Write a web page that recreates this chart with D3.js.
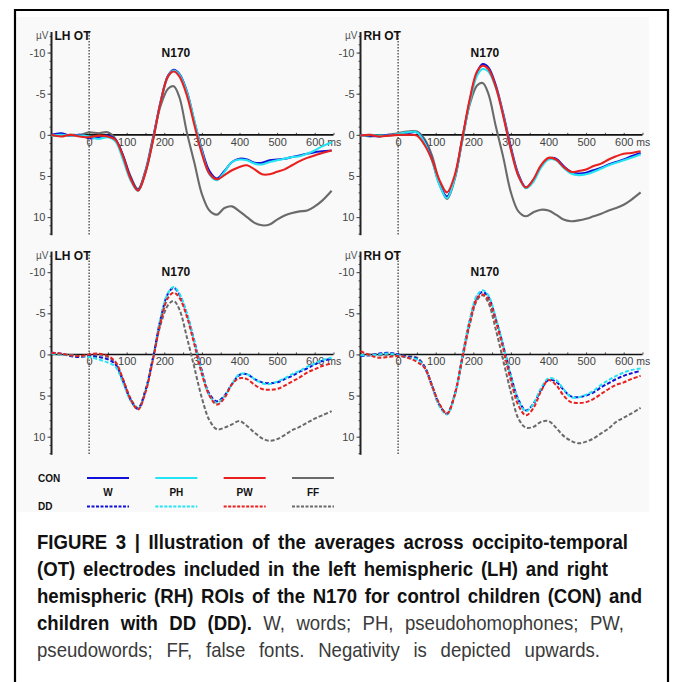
<!DOCTYPE html>
<html>
<head>
<meta charset="utf-8">
<script src="https://cdn.jsdelivr.net/npm/d3@7"></script>
<style>
  html, body { margin: 0; padding: 0; background: #fff; }
  svg { display: block; }
</style>
</head>
<body>
<div id="chart"></div>
<script>
const width = 675;
const height = 682;

// sample times (ms) shared by all waveforms
const times = [-100, -75, -50, -25, 0, 25, 50, 70, 90, 110, 130, 150, 170, 190, 210, 225, 240, 260, 280,
  300, 320, 340, 360, 380, 400, 420, 440, 460, 480, 500, 520, 540, 560, 580, 600, 620, 645];

const conditions = ["W", "PH", "PW", "FF"];
const groups = ["CON", "DD"];
const regions = ["LH OT", "RH OT"];

// µV values (positive = drawn downwards)
const conLH_W  = [0.0, -0.2, 0.1, 0.0, 0.4, 0.3, 0.1, 0.6, 2.5, 5.2, 6.7, 4.5, 0.5, -4.0, -7.2, -7.9, -7.4, -5.3, -1.6,
  1.8, 4.4, 5.3, 4.4, 3.3, 2.9, 3.0, 3.4, 3.4, 3.1, 3.0, 2.9, 2.7, 2.5, 2.3, 2.1, 2.0, 1.9];
const conLH_PH = [0.1, 0.0, 0.1, 0.1, 0.2, 0.5, 0.3, 0.8, 3.0, 5.5, 6.8, 4.5, 0.6, -3.9, -7.1, -7.8, -7.3, -5.2, -1.7,
  2.0, 4.8, 5.5, 4.5, 3.3, 3.0, 3.1, 3.5, 3.6, 3.3, 3.1, 2.9, 2.7, 2.6, 2.3, 1.9, 1.4, 0.9];
const conLH_PW = [0.0, 0.2, 0.0, 0.2, 0.3, 0.1, 0.2, 0.6, 2.6, 5.3, 6.8, 4.6, 0.7, -3.9, -7.1, -7.7, -7.1, -4.8, -1.2,
  2.3, 4.7, 5.4, 4.9, 4.3, 3.9, 3.7, 4.2, 4.8, 4.8, 4.5, 4.2, 3.7, 3.2, 2.8, 2.5, 2.2, 1.9];
const conLH_FF = [0.1, 0.1, 0.0, 0.0, -0.3, -0.2, -0.3, 0.5, 2.5, 5.0, 6.6, 4.3, 0.3, -3.5, -5.6, -5.9, -4.6, -0.3, 3.4,
  7.2, 9.2, 9.7, 8.9, 8.7, 9.3, 10.0, 10.7, 11.0, 10.9, 10.3, 9.8, 9.5, 9.3, 9.2, 8.7, 8.0, 6.8];

const conRH_W  = [0.0, 0.1, 0.2, 0.0, 0.0, -0.2, -0.3, 0.8, 3.0, 6.0, 7.5, 5.3, 0.8, -4.0, -7.6, -8.6, -8.2, -6.0, -2.5,
  1.5, 4.8, 6.4, 5.5, 3.8, 2.9, 2.9, 3.8, 4.5, 4.7, 4.6, 4.3, 4.0, 3.6, 3.3, 3.0, 2.6, 2.2];
const conRH_PH = [0.1, 0.0, 0.1, 0.1, -0.1, -0.3, -0.3, 0.9, 3.1, 6.1, 7.7, 5.4, 0.9, -3.8, -7.2, -8.0, -7.7, -5.7, -2.3,
  1.8, 5.0, 6.5, 5.7, 4.0, 3.0, 3.1, 4.0, 4.7, 4.9, 4.8, 4.5, 4.1, 3.7, 3.4, 3.1, 2.8, 2.4];
const conRH_PW = [0.1, 0.0, 0.2, 0.1, 0.0, 0.0, 0.1, 1.2, 3.0, 5.5, 7.0, 5.0, 0.6, -4.2, -7.7, -8.4, -8.0, -5.8, -2.2,
  1.8, 5.0, 6.4, 5.4, 3.7, 2.8, 3.0, 3.9, 4.5, 4.4, 4.2, 3.8, 3.5, 3.0, 2.6, 2.3, 2.2, 2.0];
const conRH_FF = [0.0, 0.2, 0.1, 0.0, -0.2, -0.4, -0.4, 0.5, 2.5, 5.8, 7.8, 5.5, 0.6, -3.6, -6.0, -6.3, -5.0, -1.0, 2.8,
  7.0, 9.3, 9.9, 9.4, 9.1, 9.2, 9.7, 10.3, 10.5, 10.4, 10.2, 9.9, 9.6, 9.2, 8.9, 8.5, 7.9, 7.0];

const ddLH_W  = [-0.2, -0.1, 0.2, 0.3, 0.2, 0.3, 0.6, 1.2, 3.2, 5.5, 6.6, 4.4, 0.4, -4.3, -7.4, -8.1, -7.3, -4.9, -1.6,
  2.0, 4.8, 5.7, 5.0, 3.6, 2.5, 2.4, 3.0, 3.4, 3.5, 3.4, 3.0, 2.6, 2.1, 1.7, 1.2, 0.8, 0.5];
const ddLH_PH = [-0.1, 0.0, 0.1, 0.2, 0.3, 0.6, 1.0, 1.5, 3.4, 5.6, 6.6, 4.4, 0.4, -4.4, -7.5, -8.2, -7.4, -5.0, -1.5,
  2.2, 5.0, 5.9, 5.1, 3.6, 2.4, 2.4, 3.0, 3.5, 3.6, 3.3, 2.9, 2.4, 2.0, 1.5, 1.1, 0.7, 0.4];
const ddLH_PW = [-0.2, -0.1, 0.1, 0.2, 0.0, -0.1, 0.2, 0.9, 3.0, 5.4, 6.7, 4.6, 0.6, -3.9, -6.9, -7.5, -6.9, -4.6, -1.2,
  2.4, 5.0, 6.1, 5.3, 3.6, 2.9, 3.0, 3.7, 4.2, 4.3, 4.2, 3.8, 3.3, 2.8, 2.2, 1.8, 1.4, 1.1];
const ddLH_FF = [-0.1, 0.0, 0.1, 0.2, 0.1, 0.0, 0.3, 1.0, 3.0, 5.3, 6.5, 4.3, 0.4, -3.6, -6.0, -6.5, -5.5, -2.1, 1.6,
  5.3, 8.0, 9.1, 8.9, 8.5, 8.1, 8.7, 9.5, 10.2, 10.5, 10.3, 9.8, 9.2, 8.8, 8.3, 7.8, 7.4, 6.9];

const ddRH_W  = [0.2, 0.1, -0.1, -0.2, 0.0, 0.3, 0.5, 1.5, 3.8, 6.2, 7.2, 5.0, 0.5, -4.0, -7.0, -7.6, -7.0, -4.3, -1.0,
  2.6, 5.5, 6.8, 6.0, 4.3, 3.1, 3.3, 4.3, 5.1, 5.2, 5.0, 4.6, 4.0, 3.5, 3.0, 2.6, 2.3, 2.0];
const ddRH_PH = [0.1, 0.1, 0.0, -0.1, 0.1, 0.4, 0.6, 1.6, 3.9, 6.3, 7.3, 5.1, 0.5, -4.1, -7.2, -7.8, -7.2, -4.4, -1.0,
  2.7, 5.6, 6.9, 6.0, 4.1, 2.9, 3.1, 4.2, 5.2, 5.2, 4.9, 4.4, 3.7, 3.1, 2.6, 2.2, 1.9, 1.7];
const ddRH_PW = [-0.4, 0.1, 0.4, 0.3, 0.2, 0.4, 0.9, 1.6, 3.8, 6.0, 7.2, 5.0, 0.6, -3.8, -6.8, -7.3, -6.7, -4.0, -0.6,
  3.2, 6.2, 7.4, 6.5, 4.5, 3.1, 3.7, 5.0, 5.8, 5.9, 5.8, 5.4, 4.8, 4.2, 3.7, 3.4, 3.0, 2.6];
const ddRH_FF = [0.1, 0.0, 0.1, 0.0, 0.1, 0.2, 0.4, 1.4, 3.7, 6.1, 7.2, 5.0, 0.8, -3.5, -6.6, -7.2, -6.3, -3.0, 0.8,
  4.6, 7.8, 8.9, 8.8, 8.2, 8.1, 8.9, 9.9, 10.5, 10.8, 10.6, 10.2, 9.6, 9.0, 8.2, 7.7, 7.2, 6.5];

const xTicks = [0, 100, 200, 300, 400, 500, 600];
const yTicks = [-10, -5, 0, 5, 10];

const captionLines = [
  [{ t: "FIGURE 3 | Illustration of the averages across occipito-temporal", b: true }],
  [{ t: "(OT) electrodes included in the left hemispheric (LH) and right", b: true }],
  [{ t: "hemispheric (RH) ROIs of the N170 for control children (CON) and", b: true }],
  [{ t: "children with DD (DD).", b: true }, { t: " W, words; PH, pseudohomophones; PW,", b: false }],
  [{ t: "pseudowords; FF, false fonts. Negativity is depicted upwards.", b: false }]
];

const color = d3.scaleOrdinal()
  .domain(conditions)
  .range(["#1010d8", "#22e4f2", "#e8201e", "#6a6a6a"]);

const panels = [
  { group: "CON", region: "LH OT", series: [conLH_W, conLH_PH, conLH_PW, conLH_FF], col: 0, row: 0 },
  { group: "CON", region: "RH OT", series: [conRH_W, conRH_PH, conRH_PW, conRH_FF], col: 1, row: 0 },
  { group: "DD",  region: "LH OT", series: [ddLH_W, ddLH_PH, ddLH_PW, ddLH_FF], col: 0, row: 1 },
  { group: "DD",  region: "RH OT", series: [ddRH_W, ddRH_PH, ddRH_PW, ddRH_FF], col: 1, row: 1 }
];

const colX = [[51.5, 333.5], [360.5, 642.5]];
const rowY = [[32, 235.2], [251.6, 454.8]];
const tickFont = "'Liberation Sans', Arial, sans-serif";

const svg = d3.select("#chart")
  .append("svg")
  .attr("width", width)
  .attr("height", height)
  .style("font-family", "'Liberation Sans', Arial, Helvetica, sans-serif");

// figure background + frame
svg.append("rect")
  .attr("x", 17).attr("y", 17)
  .attr("width", 632).attr("height", 495)
  .attr("fill", "#f9f9f9");

svg.append("path")
  .attr("d", "M15,690V10H668V690")
  .attr("fill", "none")
  .attr("stroke", "#000")
  .attr("stroke-width", 2.2);

panels.forEach(p => {
  const x = d3.scaleLinear().domain([-100, 650]).range(colX[p.col]);
  const y = d3.scaleLinear().domain([-12.5, 12.2]).range(rowY[p.row]);
  const g = svg.append("g");
  const dashed = p.group === "DD";

  // y axis: minor ticks, then major ticks with labels
  g.append("g")
    .attr("transform", `translate(${x(-100)},0)`)
    .call(d3.axisLeft(y).tickValues(d3.range(-12, 13, 1)).tickSize(2).tickFormat(""))
    .call(a => a.select(".domain").remove())
    .call(a => a.selectAll("line").attr("stroke", "#555"));

  g.append("g")
    .attr("transform", `translate(${x(-100)},0)`)
    .call(d3.axisLeft(y).tickValues(yTicks).tickSize(4).tickPadding(2).tickFormat(d => String(d)))
    .call(a => a.select(".domain").attr("d", `M0,${y.range()[0]}V${y.range()[1]}`)
      .attr("stroke", "#222").attr("stroke-width", 2))
    .call(a => a.selectAll("text").attr("fill", "#444").style("font-size", "11px")
      .style("font-family", tickFont))
    .call(a => a.selectAll("line").attr("stroke", "#444"));

  // x axis at 0 µV
  g.append("g")
    .attr("transform", `translate(0,${y(0)})`)
    .call(d3.axisTop(x).tickValues(d3.range(0, 651, 50)).tickSize(2).tickFormat(""))
    .call(a => a.select(".domain").remove())
    .call(a => a.selectAll("line").attr("stroke", "#444"));

  g.append("g")
    .attr("transform", `translate(0,${y(0)})`)
    .call(d3.axisBottom(x).tickValues(xTicks).tickSize(0).tickPadding(3).tickFormat(d => String(d)))
    .call(a => a.select(".domain").attr("d", `M${x(-100)},0H${x(650)}`)
      .attr("stroke", "#111").attr("stroke-width", 1.6))
    .call(a => a.selectAll("text").attr("fill", "#444").style("font-size", "11px")
      .style("font-family", tickFont))
    // unit sits right after the last tick label, as one label "600 ms"
    .call(a => a.selectAll(".tick").filter(d => d === 600).select("text")
      .attr("text-anchor", "start").attr("x", -9.2)
      .append("tspan").style("font-size", "10.5px").text(" ms"));

  // stimulus onset
  g.append("line")
    .attr("x1", x(0)).attr("x2", x(0))
    .attr("y1", y.range()[0]).attr("y2", y.range()[1])
    .attr("stroke", "#222").attr("stroke-width", 1.1)
    .attr("stroke-dasharray", "1.5,1.5");

  g.append("text")
    .attr("x", x(-100) - 3).attr("y", y.range()[0] + 7)
    .attr("text-anchor", "end").attr("fill", "#555")
    .style("font-size", "10px")
    .text("µV");

  g.append("text")
    .attr("x", x(-100) + 3).attr("y", y.range()[0] + 8)
    .attr("fill", "#111").style("font-size", "12px").style("font-weight", "bold")
    .text(p.region);

  g.append("text")
    .attr("x", x(231)).attr("y", y(-10) + 4)
    .attr("text-anchor", "middle")
    .attr("fill", "#111").style("font-size", "12px").style("font-weight", "bold")
    .text("N170");

  const line = d3.line()
    .x((d, i) => x(times[i]))
    .y(d => y(d))
    .curve(d3.curveCatmullRom.alpha(0.5));

  const order = [3, 0, 1, 2];
  order.forEach(k => {
    g.append("path")
      .attr("d", line(p.series[k]))
      .attr("fill", "none")
      .attr("stroke", color(conditions[k]))
      .attr("stroke-width", dashed ? 2 : 2.1)
      .attr("stroke-dasharray", dashed ? "4,2" : null)
      .attr("stroke-linejoin", "round");
  });
});

// legend
const legendX = d3.scalePoint().domain(conditions).range([108, 313]);
const legend = svg.append("g").style("font-weight", "bold").style("font-size", "10px");
groups.forEach((gname, gi) => {
  const ly = gi === 0 ? 478 : 506.5;
  legend.append("text")
    .attr("x", 38).attr("y", ly + 3.5)
    .attr("fill", "#111")
    .text(gname);
  conditions.forEach(c => {
    legend.append("line")
      .attr("x1", legendX(c) - 21).attr("x2", legendX(c) + 21)
      .attr("y1", ly).attr("y2", ly)
      .attr("stroke", color(c))
      .attr("stroke-width", gi === 0 ? 2.2 : 1.8)
      .attr("stroke-dasharray", gi === 0 ? null : "3,1.5");
  });
});
conditions.forEach(c => {
  legend.append("text")
    .attr("x", legendX(c)).attr("y", 495.5)
    .attr("text-anchor", "middle").attr("fill", "#111")
    .text(c);
});

// caption: slightly condensed glyphs, justified by widening word gaps
const squeeze = 0.93;
const lineEnds = [628, 608, 642, 624, 600];
const caption = svg.append("g")
  .style("font-family", "'Liberation Sans', Arial, sans-serif")
  .style("font-size", "20px");
captionLines.forEach((parts, i) => {
  const t = caption.append("text")
    .attr("transform", `translate(37,${549 + i * 27}) scale(${squeeze},1)`);
  parts.forEach(s => {
    t.append("tspan")
      .style("font-weight", s.b ? "bold" : "normal")
      .attr("fill", s.b ? "#111" : "#3a3a3a")
      .text(s.t);
  });
  const natural = t.node().getComputedTextLength();
  const gaps = parts.map(s => s.t).join("").split(" ").length - 1;
  const target = (lineEnds[i] - 37) / squeeze;
  t.style("word-spacing", `${Math.max(0, (target - natural) / gaps)}px`);
});
</script>
</body>
</html>
